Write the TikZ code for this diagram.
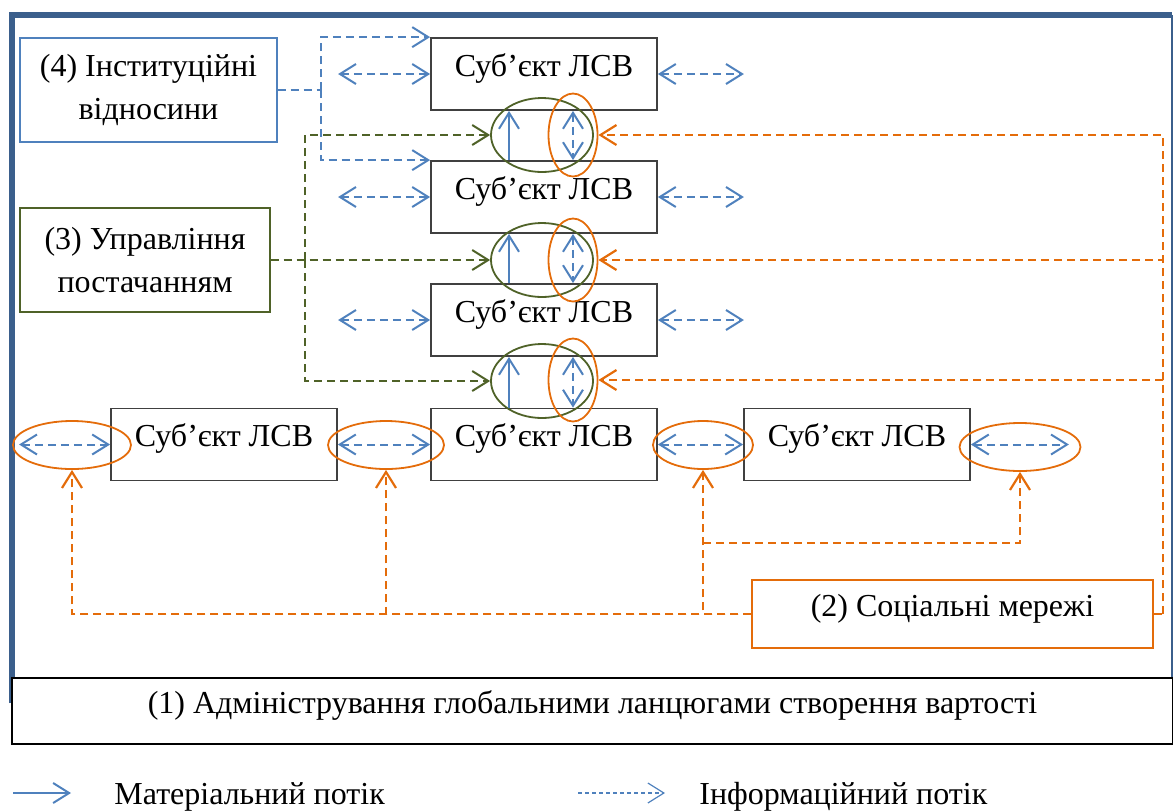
\documentclass[tikz,border=0pt]{standalone}
\usepackage{fontspec}
\setmainfont{Liberation Serif}
\usetikzlibrary{arrows.meta,shapes.geometric}

\definecolor{framecol}{RGB}{59,95,140}
\definecolor{flowblue}{RGB}{79,129,189}
\definecolor{supgreen}{RGB}{79,98,40}
\definecolor{socorange}{RGB}{228,108,10}
\definecolor{boxgray}{RGB}{64,64,64}

\begin{document}
\begin{tikzpicture}[x=0.5pt,y=-0.5pt,
    font=\fontsize{16}{21.5}\selectfont,
    tip/.style={-{Straight Barb[length=8pt,width=10pt]}},
    dtip/.style={{Straight Barb[length=8pt,width=10pt]}-{Straight Barb[length=8pt,width=10pt]}},
    infoline/.style={flowblue, line width=1pt, dash pattern=on 4pt off 2.5pt},
    matline/.style={flowblue, line width=1pt},
    supline/.style={supgreen, line width=1pt, dash pattern=on 4pt off 2.5pt},
    socline/.style={socorange, line width=1.1pt, dash pattern=on 4pt off 2.5pt},
    subj/.style={draw=boxgray, line width=0.9pt, minimum width=113pt, minimum height=36pt,
      inner sep=0pt, text height=0.6em, text depth=0.4em},
    factor/.style={draw, fill=white, line width=0.7pt, align=center, inner sep=0pt},
    ring/.style={ellipse, draw, inner sep=0pt, line width=0.9pt}]
  \useasboundingbox (0,0) rectangle (1173,810);

  % Outer frame
  \draw[framecol, line width=2.6pt] (12,703) -- (12,15) -- (1172,15);
  \draw[framecol, line width=1pt] (1172,15) -- (1172,678);

  % Factors (1)-(4)
  \node[factor, draw=black, minimum width=580.5pt, minimum height=33pt,
    text height=0.6em, text depth=0.4em] (adm) at (592.5,711)
    {(1) Адміністрування глобальними ланцюгами створення вартості};
  \node[factor, draw=socorange, minimum width=200.5pt, minimum height=34pt,
    text height=0.6em, text depth=0.4em] (soc) at (952.5,614) {(2) Соціальні мережі};
  \node[factor, draw=supgreen, minimum width=125pt, minimum height=52pt] (sup) at (145,260)
    {(3) Управління\\постачанням};
  \node[factor, draw=flowblue, minimum width=128.5pt, minimum height=52pt] (inst) at (148.5,90)
    {(4) Інституційні\\відносини};

  % Subjects of the chain
  \node[subj] (s1) at (544,74) {Суб’єкт ЛСВ};
  \node[subj] (s2) at (544,197) {Суб’єкт ЛСВ};
  \node[subj] (s3) at (544,320) {Суб’єкт ЛСВ};
  \node[subj] (s4) at (544,444.5) {Суб’єкт ЛСВ};
  \node[subj] (b1) at (224,444.5) {Суб’єкт ЛСВ};
  \node[subj] (b3) at (857,444.5) {Суб’єкт ЛСВ};

  % Rings between the column boxes
  \foreach \i/\y/\z in {1/135/135, 2/260/260, 3/381/380} {
    \node[ring, draw=supgreen, minimum width=51pt, minimum height=37pt] (g\i) at (542,\y) {};
    \node[ring, draw=socorange, minimum width=24.5pt, minimum height=41.5pt] (o\i) at (573,\z) {};
    \coordinate (m\i) at (509,\y);
  }
  \draw[matline, tip] (s2.north -| m1) -- (s1.south -| m1);
  \draw[matline, tip] (s3.north -| m2) -- (s2.south -| m2);
  \draw[matline, tip] (s4.north -| m3) -- (s3.south -| m3);
  \draw[infoline, dtip] (s1.south -| o1) -- (s2.north -| o1);
  \draw[infoline, dtip] (s2.south -| o2) -- (s3.north -| o2);
  \draw[infoline, dtip] (s3.south -| o3) -- (s4.north -| o3);

  % Info flows left and right of the column
  \foreach \s in {s1,s2,s3} {
    \draw[infoline, dtip] (\s.west) ++(-92,0) -- (\s.west);
    \draw[infoline, dtip] (\s.east) -- ++(86,0);
  }

  % Bottom row rings
  \node[ring, draw=socorange, minimum width=59pt, minimum height=24pt] (e1) at (72,445) {};
  \node[ring, draw=socorange, minimum width=58pt, minimum height=24pt] (e2) at (386,445) {};
  \node[ring, draw=socorange, minimum width=50pt, minimum height=24pt] (e3) at (703,445) {};
  \node[ring, draw=socorange, minimum width=60.5pt, minimum height=24pt] (e4) at (1020,447) {};
  \draw[infoline, dtip] (b1.west) ++(-91,0) -- (b1.west);
  \draw[infoline, dtip] (b1.east) -- (s4.west);
  \draw[infoline, dtip] (s4.east) -- (b3.west);
  \draw[infoline, dtip] (b3.east) -- ++(98,0);

  % (4) institutional links
  \draw[infoline] (inst.east) -- ++(43,0) coordinate (ij);
  \draw[infoline, tip] (ij) |- (s1.north west);
  \draw[infoline, tip] (ij) |- (s2.north west);

  % (3) supply management links
  \draw[supline, tip] (sup.east) -- (g2.west);
  \coordinate (gj) at (305,260);
  \draw[supline, tip] (gj) |- (g1.west);
  \draw[supline, tip] (gj) |- (g3.west);

  % (2) social network links
  \draw[socline] (soc.east) -- ++(9,0) coordinate (oj);
  \foreach \i in {1,2,3}
    \draw[socline, tip] (oj) |- (o\i.east);
  \draw[socline, tip] (soc.west) -| (e1.south);
  \draw[socline, tip] (soc.west) -| (e2.south);
  \draw[socline, tip] (soc.west) -| (e3.south);
  \coordinate (sj) at (703,543);
  \draw[socline, tip] (sj) -| (e4.south);

  % Legend
  \node[anchor=base west, inner sep=0pt] (lmat) at (114,804) {Матеріальний потік};
  \node[anchor=base west, inner sep=0pt] (linf) at (699,804) {Інформаційний потік};
  \draw[matline, tip] ([xshift=-50.5pt,yshift=5.5pt]lmat.base west) -- ([xshift=-21.5pt,yshift=5.5pt]lmat.base west);
  \draw[flowblue, line width=0.6pt, dash pattern=on 2pt off 1.5pt, tip]
    ([xshift=-60.5pt,yshift=5.5pt]linf.base west) -- ([xshift=-17pt,yshift=5.5pt]linf.base west);
\end{tikzpicture}
\end{document}
